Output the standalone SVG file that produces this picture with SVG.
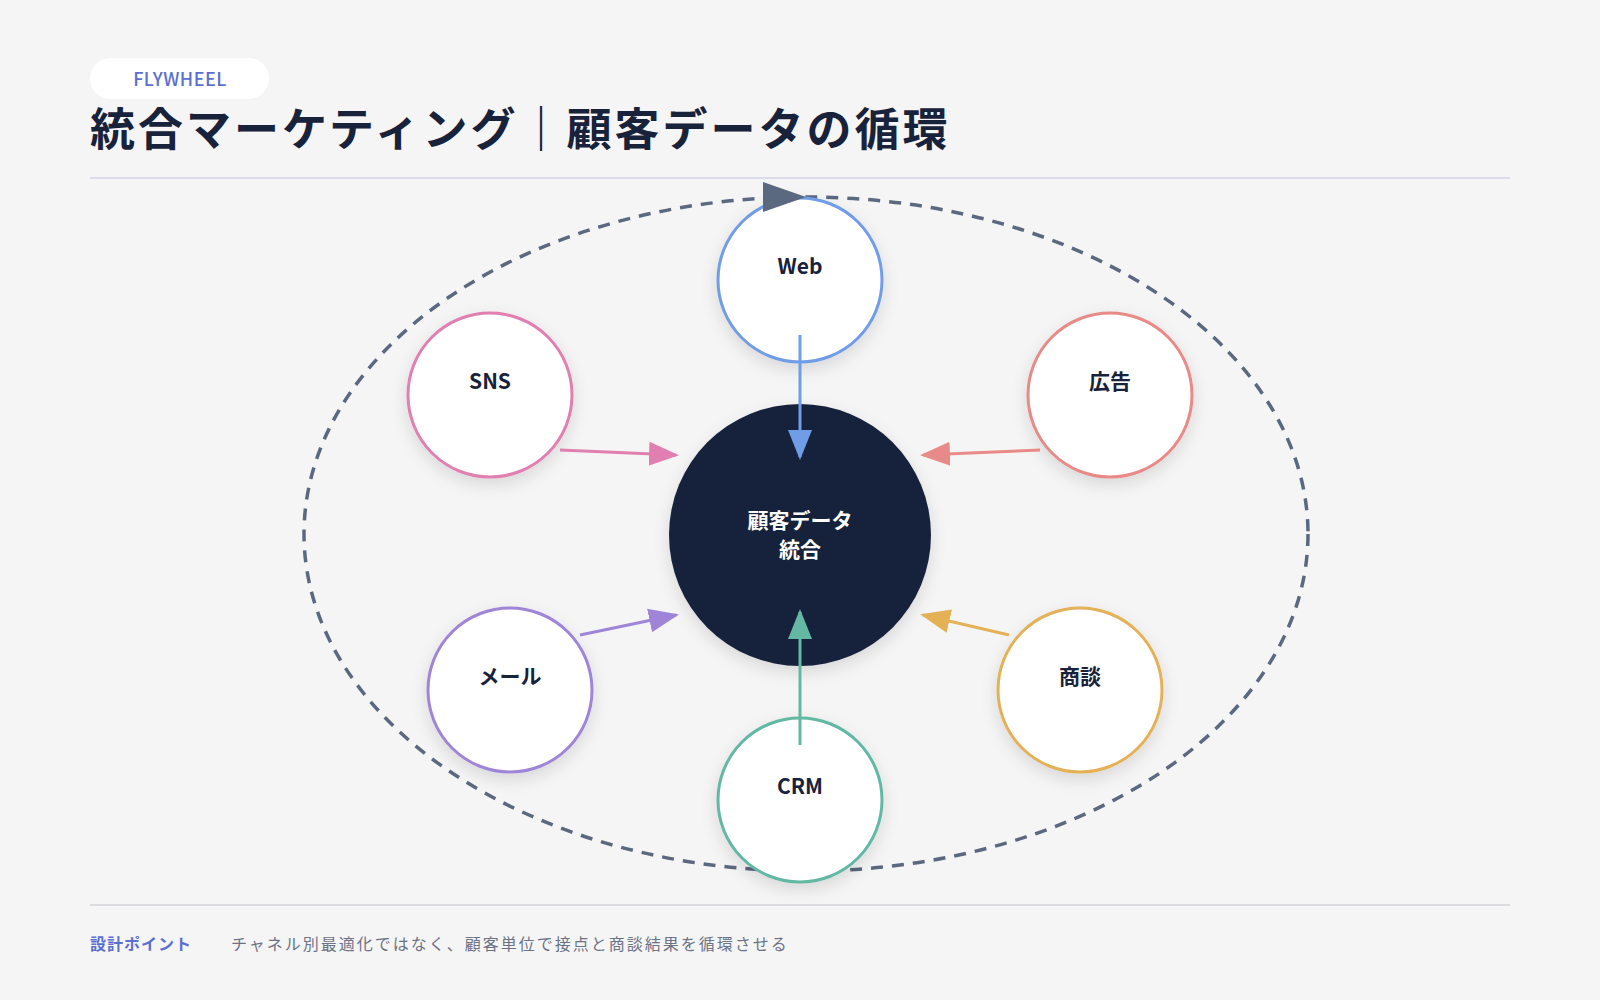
<svg xmlns="http://www.w3.org/2000/svg" width="1600" height="1000" viewBox="0 0 1600 1000">
<defs>
<style>
text{font-family:"Noto Sans CJK JP","Noto Sans",sans-serif}
.node{fill:#fff;stroke-width:3}
.lbl{font-size:21px;font-weight:700;fill:#18223a;text-anchor:middle}
.conn{stroke-width:3;fill:none}
</style>
<filter id="sh" x="-30%" y="-30%" width="160%" height="160%"><feDropShadow dx="0" dy="6" stdDeviation="8" flood-color="#000" flood-opacity="0.12"/></filter>
<marker id="m" viewBox="0 0 10 10" refX="9" refY="5" markerWidth="10" markerHeight="10" orient="auto"><path d="M0,1L10,5L0,9z" fill="context-stroke"/></marker>
</defs>
<rect width="1600" height="1000" fill="#f5f5f5"/>
<g id="header">
<rect x="90" y="58" width="179" height="41" rx="20.5" fill="#fff"/>
<text x="180" y="86" font-size="18" font-weight="500" fill="#5b6fd0" text-anchor="middle" letter-spacing="0.5">FLYWHEEL</text>
<text x="90" y="146" font-size="45" font-weight="700" fill="#18223a" letter-spacing="3">統合マーケティング｜顧客データの循環</text>
<line x1="90" y1="178" x2="1510" y2="178" stroke="#dcdce8" stroke-width="2"/>
</g>
<g id="cycle">
<ellipse cx="806" cy="534" rx="502" ry="337" fill="none" stroke="#5a6880" stroke-width="3.5" stroke-dasharray="12 9"/>
</g>
<g id="n-center"><circle cx="800" cy="535" r="131" fill="#16213b" filter="url(#sh)"/>
<text x="800" y="528" class="lbl" style="fill:#fff">顧客データ</text><text x="800" y="557" class="lbl" style="fill:#fff">統合</text></g>
<g id="n-web"><circle cx="800" cy="280" r="82" class="node" stroke="#6f9de6" filter="url(#sh)"/><text x="800" y="274" class="lbl">Web</text></g>
<g id="n-sns"><circle cx="490" cy="395" r="82" class="node" stroke="#e07fb0" filter="url(#sh)"/><text x="490" y="389" class="lbl">SNS</text></g>
<g id="n-ad"><circle cx="1110" cy="395" r="82" class="node" stroke="#e88a88" filter="url(#sh)"/><text x="1110" y="389" class="lbl">広告</text></g>
<g id="n-mail"><circle cx="510" cy="690" r="82" class="node" stroke="#9e85d8" filter="url(#sh)"/><text x="510" y="684" class="lbl">メール</text></g>
<g id="n-deal"><circle cx="1080" cy="690" r="82" class="node" stroke="#e4b157" filter="url(#sh)"/><text x="1080" y="684" class="lbl">商談</text></g>
<g id="n-crm"><circle cx="800" cy="800" r="82" class="node" stroke="#63b8a4" filter="url(#sh)"/><text x="800" y="794" class="lbl">CRM</text></g>
<g id="connectors">
<path d="M763,182 L806,197 L763,212 z" fill="#5a6880"/>
<line x1="800" y1="335" x2="800" y2="457" class="conn" stroke="#6f9de6" marker-end="url(#m)"/>
<line x1="560" y1="450" x2="676" y2="455" class="conn" stroke="#e07fb0" marker-end="url(#m)"/>
<line x1="1040" y1="450" x2="923" y2="455" class="conn" stroke="#e88a88" marker-end="url(#m)"/>
<line x1="580" y1="635" x2="676" y2="615" class="conn" stroke="#9e85d8" marker-end="url(#m)"/>
<line x1="1009" y1="635" x2="923" y2="615" class="conn" stroke="#e4b157" marker-end="url(#m)"/>
<line x1="800" y1="745" x2="800" y2="612" class="conn" stroke="#63b8a4" marker-end="url(#m)"/>
</g>
<g id="footer">
<line x1="90" y1="905" x2="1510" y2="905" stroke="#dcdce0" stroke-width="2"/>
<text x="90" y="950" font-size="16" font-weight="700" fill="#5b6fd0" letter-spacing="1">設計ポイント</text>
<text x="231" y="950" font-size="16" fill="#6b7385" letter-spacing="2">チャネル別最適化ではなく、顧客単位で接点と商談結果を循環させる</text>
</g>
</svg>
